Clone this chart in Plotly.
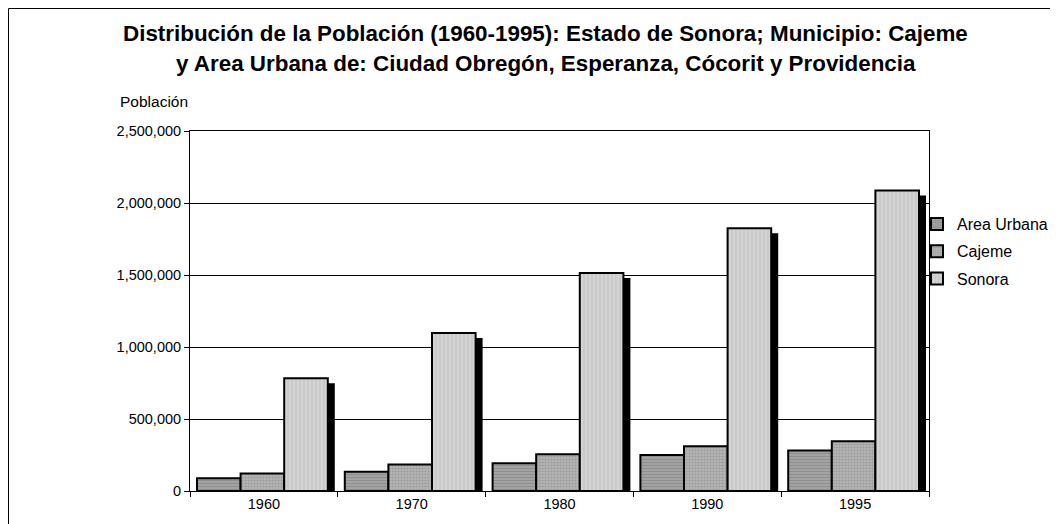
import plotly.graph_objects as go

years = ["1960", "1970", "1980", "1990", "1995"]
area_urbana = [88000, 134000, 192000, 250000, 282000]
cajeme = [122000, 184000, 255000, 311000, 345000]
sonora = [783000, 1098000, 1514000, 1824000, 2086000]
series_names = ["Area Urbana", "Cajeme", "Sonora"]
y_ticks = [0, 500000, 1000000, 1500000, 2000000, 2500000]

# geometry (screen pixels; page body has an 8px margin)
W, H = 1058, 524
OFF = 8
SL, SR, ST, SB = 190, 929, 131, 491
PW, PH = SR - SL, SB - ST
CAT = PW / len(years)
BARW = 43.6 / CAT
offsets = [(197 - (SL + CAT / 2)) / CAT + i * BARW for i in range(3)]
SH_X = 7 / CAT
SH_Y = 5 / PH * 2500000

styles = [
    dict(shape="-", bgcolor="#a3a3a3", fgcolor="#7a7a7a", size=3, solidity=0.35),
    dict(shape=".", bgcolor="#b5b5b5", fgcolor="#7f7f7f", size=3, solidity=0.4),
    dict(shape="|", bgcolor="#d4d4d4", fgcolor="#b0b0b0", size=4, solidity=0.3),
]
data = [area_urbana, cajeme, sonora]

fig = go.Figure()
for i, vals in enumerate(data):
    fig.add_trace(go.Bar(
        x=years, y=vals, base=[-SH_Y] * len(vals),
        offset=offsets[i] + SH_X, width=BARW,
        marker=dict(color="black", line=dict(width=0)),
        showlegend=False, hoverinfo="skip",
    ))
for i, vals in enumerate(data):
    fig.add_trace(go.Bar(
        x=years, y=vals, name=series_names[i],
        offset=offsets[i], width=BARW,
        marker=dict(color=styles[i]["bgcolor"], pattern=styles[i],
                    line=dict(color="black", width=2)),
        legendgroup=series_names[i],
    ))

def px_x(sx):
    return (sx - SL) / PW

def px_y(sy):
    return (SB - sy) / PH

font = "Liberation Sans, Arial, sans-serif"
title1 = "<b>Distribución de la Población (1960-1995): Estado de Sonora; Municipio: Cajeme</b>"
title2 = "<b>y Area Urbana de: Ciudad Obregón, Esperanza, Cócorit y Providencia</b>"

fig.update_layout(
    width=W, height=H,
    margin=dict(l=SL - OFF, r=W - (SR - OFF), t=ST - OFF, b=H - (SB - OFF),
                pad=0, autoexpand=False),
    paper_bgcolor="white", plot_bgcolor="white",
    barmode="overlay",
    font=dict(family=font, size=14.5, color="black"),
    xaxis=dict(
        type="category", tickson="boundaries", ticks="outside", ticklen=5,
        tickcolor="black", showline=True, linecolor="black", linewidth=1,
        mirror=True, showgrid=False, tickfont=dict(size=14.5),
    ),
    yaxis=dict(
        range=[0, 2500000], tickvals=y_ticks, tickformat=",", ticks="outside",
        ticklen=5, tickcolor="black", showline=True, linecolor="black",
        linewidth=1, mirror=True, showgrid=True, gridcolor="black",
        gridwidth=1, zeroline=False, tickfont=dict(size=14.5),
    ),
    legend=dict(
        x=px_x(917), xanchor="left", y=px_y(207), yanchor="top",
        font=dict(size=16), tracegroupgap=3.5, traceorder="grouped",
        bgcolor="rgba(0,0,0,0)", itemwidth=30,
    ),
    annotations=[
        dict(text=title1, x=px_x(545), y=px_y(33), xref="paper", yref="paper",
             showarrow=False, xanchor="center", yanchor="middle",
             font=dict(size=22.4)),
        dict(text=title2, x=px_x(546), y=px_y(63), xref="paper", yref="paper",
             showarrow=False, xanchor="center", yanchor="middle",
             font=dict(size=22.4)),
        dict(text="Población", x=px_x(154), y=px_y(101), xref="paper", yref="paper",
             showarrow=False, xanchor="center", yanchor="middle",
             font=dict(size=15.5)),
    ],
    shapes=[
        dict(type="line", xref="paper", yref="paper", x0=px_x(8.5), x1=px_x(8.5),
             y0=px_y(8.5), y1=px_y(540), line=dict(color="black", width=1)),
        dict(type="line", xref="paper", yref="paper", x0=px_x(8.5), x1=px_x(1080),
             y0=px_y(8.5), y1=px_y(8.5), line=dict(color="black", width=1)),
    ],
)

fig.write_html("out.html")
